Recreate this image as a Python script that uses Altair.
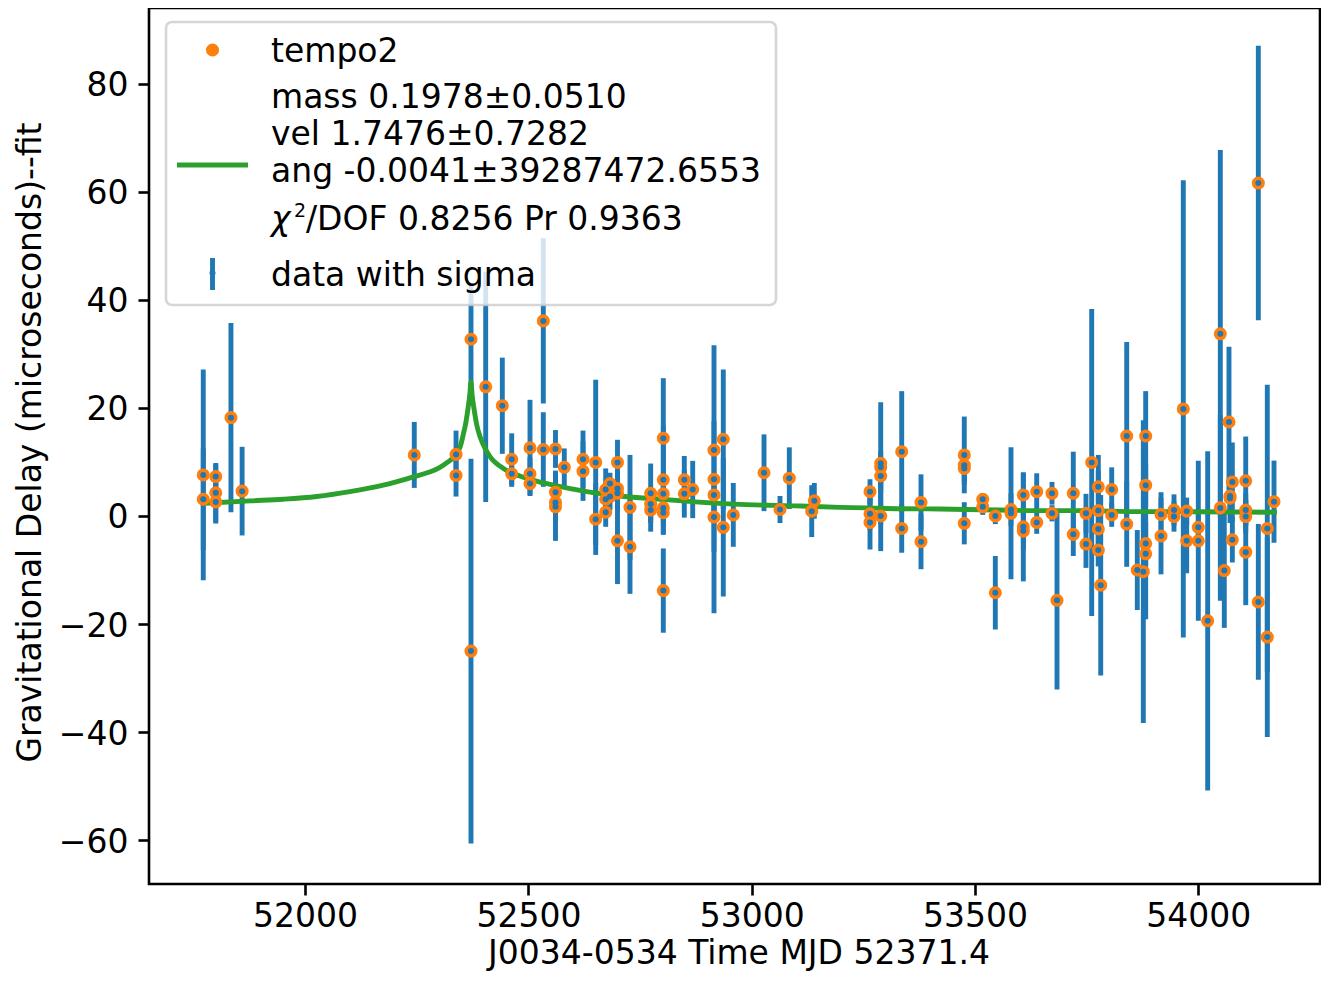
import altair as alt
import pandas as pd

# ---- data ----
mjd = [51772, 51772, 51800, 51800, 51800, 51834, 51859, 52244.5, 52338, 52338,
       52371.5, 52371.5, 52404.4, 52441.6, 52462.6, 52462.6, 52503.6, 52503.6, 52503.6, 52533.4,
       52533.4, 52560.7, 52560.7, 52560.7, 52560.7, 52580.4, 52622.3, 52622.3, 52650.7, 52650.7,
       52673.1, 52673.1, 52673.1, 52682.7, 52682.7, 52699.5, 52699.5, 52699.5, 52699.5, 52727.5,
       52727.5, 52773.8, 52773.8, 52773.8, 52802.1, 52802.1, 52802.1, 52802.1, 52802.1, 52802.1,
       52849.1, 52849.1, 52867.9, 52915.6, 52915.6, 52915.6, 52915.6, 52936.4, 52936.4, 52958.8,
       53027.6, 53063.4, 53084.2, 53134.4, 53140.2, 53264.9, 53264.9, 53264.9, 53288.9, 53288.9,
       53288.9, 53288.9, 53335.9, 53335.9, 53379.1, 53379.1, 53476, 53476, 53476, 53476,
       53517.3, 53517.3, 53545.5, 53545.5, 53580.6, 53580.6, 53608.2, 53608.2, 53608.2, 53638.2,
       53638.2, 53672.4, 53672.4, 53683.6, 53720.1, 53720.1, 53748.5, 53748.5, 53761.3, 53776.1,
       53776.1, 53776.1, 53776.1, 53781.5, 53806.1, 53806.1, 53839.7, 53839.7, 53863.4, 53876.9,
       53882.2, 53882.2, 53882.2, 53882.2, 53916.5, 53916.5, 53945.6, 53945.6, 53966.4, 53974,
       53974, 54000, 54000, 54021, 54049.3, 54049.3, 54058.2, 54068.7, 54071, 54071,
       54076.2, 54076.2, 54106.2, 54106.2, 54106.2, 54106.2, 54134.4, 54134.4, 54154.5, 54154.5,
       54169.5]
val = [7.6, 3.1, 7.3, 4.3, 2.6, 18.2, 4.6, 11.3, 11.4, 7.5,
       32.7, -25.0, 23.9, 20.4, 10.5, 7.8, 12.6, 7.8, 6.0, 36.1,
       12.3, 12.4, 4.4, 2.5, 1.7, 9.0, 10.5, 8.3, 9.9, -0.6,
       4.9, 3.1, 0.7, 6.0, 3.6, 9.9, 5.1, 4.2, -4.6, 1.6,
       -5.7, 4.2, 2.2, 1.1, 14.4, 6.7, 4.1, 1.5, 0.6, -13.8,
       6.7, 4.1, 4.9, 12.2, 6.8, 3.9, -0.2, 14.2, -2.1, 0.2,
       8.0, 1.2, 7.0, 0.9, 2.8, 4.5, 0.4, -1.2, 9.75, 9.0,
       7.4, 0.0, 11.9, -2.3, 2.5, -4.75, 11.3, 9.4, 8.8, -1.35,
       3.1, 1.7, 0.0, -14.2, 1.2, 0.5, 3.9, -2.8, -2.0, 4.5,
       -1.2, 4.2, 0.5, -15.6, 4.2, -3.4, 0.5, -5.2, 9.9, 5.4,
       1.0, -2.4, -6.3, -12.8, 4.9, 0.2, 14.8, -1.5, -10.0, -10.3,
       14.8, 5.7, -5.1, -7.0, 0.3, -3.7, 1.1, -0.1, 19.8, 0.9,
       -4.6, -2.1, -4.6, -19.4, 33.7, 1.5, -10.1, 17.4, 3.7, 3.3,
       6.3, -4.4, 6.5, 1.1, -0.1, -6.7, 61.6, -15.9, -2.3, -22.4,
       2.65]
sig = [19.5, 9.4, 2.3, 5.5, 4.0, 17.5, 8.2, 6.1, 4.4, 3.9,
       10.35, 35.6, 21.3, 8.9, 4.8, 2.4, 8.9, 3.0, 2.1, 15.3,
       6.9, 3.5, 4.0, 3.5, 6.3, 3.5, 5.3, 5.5, 15.3, 6.6,
       3.9, 3.0, 2.7, 2.0, 2.5, 4.2, 3.0, 3.0, 8.0, 9.7,
       8.7, 5.5, 3.0, 4.0, 11.1, 10.0, 3.0, 3.0, 4.1, 7.8,
       4.4, 4.4, 5.3, 5.4, 24.8, 3.0, 6.4, 12.9, 12.8, 5.9,
       7.1, 2.5, 5.7, 4.8, 3.3, 2.3, 3.0, 5.0, 11.3, 3.0,
       3.0, 6.5, 11.2, 4.5, 5.2, 5.1, 7.1, 3.0, 3.0, 3.9,
       1.1, 1.5, 1.5, 6.8, 3.0, 12.2, 4.0, 3.5, 10.1, 3.4,
       2.1, 2.1, 1.5, 16.5, 7.7, 4.0, 3.6, 4.4, 28.4, 3.0,
       10.3, 3.0, 3.0, 16.7, 4.1, 2.2, 17.4, 7.9, 7.4, 28.0,
       8.3, 4.0, 4.0, 12.1, 4.1, 7.1, 2.9, 2.8, 42.3, 2.5,
       6.0, 3.0, 14.8, 31.4, 34.0, 17.2, 10.6, 13.9, 5.0, 3.0,
       7.3, 4.2, 8.2, 3.0, 3.0, 9.8, 25.4, 14.4, 26.6, 18.5,
       7.6]

# fitted curve
curve_mjd = [51772, 51877, 51951, 52026, 52100, 52175, 52245, 52270, 52300, 52320,
             52338, 52348, 52354, 52360, 52365, 52369, 52371.4, 52374, 52378, 52384,
             52392, 52403, 52414, 52444, 52481, 52520, 52556, 52631, 52705, 52780,
             52860, 52959, 53109, 53198, 53258, 53333, 53422, 53520, 53646, 53735,
             53870, 53959, 54176]
curve_val = [2.35, 2.8, 3.1, 3.6, 4.5, 5.7, 7.3, 7.9, 8.9, 10.0,
             11.4, 13.0, 15.0, 17.3, 20.0, 22.6, 24.8, 22.4, 20.0, 17.0,
             14.6, 12.5, 11.0, 8.8, 7.4, 6.4, 5.7, 4.5, 3.7, 3.2,
             2.7, 2.2, 1.85, 1.6, 1.5, 1.35, 1.3, 1.15, 1.0, 1.0,
             0.8, 0.8, 0.7]

xticks = [52000, 52500, 53000, 53500, 54000]
yticks = [-60, -40, -20, 0, 20, 40, 60, 80]

legend_fit_lines = ["mass 0.1978\u00b10.0510", "vel 1.7476\u00b10.7282",
                    "ang -0.0041\u00b139287472.6553"]
chi_rest = "/DOF 0.8256 Pr 0.9363"

# ---- build ----
df = pd.DataFrame({"mjd": mjd, "val": val, "sig": sig})
df["lo"] = df["val"] - df["sig"]
df["hi"] = df["val"] + df["sig"]
cv = pd.DataFrame({"mjd": curve_mjd, "val": curve_val})
one = pd.DataFrame({"k": [0]})

W, H = 1171, 876
FONT = "DejaVu Sans"
FS = 33
BLUE, ORANGE, GREEN = "#1f77b4", "#ff7f0e", "#2ca02c"

xs = alt.Scale(domain=[51650.5, 54272.5], nice=False, zero=False)
ys = alt.Scale(domain=[-68.09, 93.99], nice=False, zero=False)

xax = alt.Axis(values=xticks, format="d", title="J0034-0534 Time MJD 52371.4",
               labelBaseline="alphabetic", labelPadding=31,
               titleX=589.5, titleY=79, titleBaseline="alphabetic", titleAlign="center")
yax = alt.Axis(values=yticks, format="d", title="Gravitational Delay (microseconds)--fit",
               labelBaseline="middle", labelOffset=2, labelPadding=10,
               titleX=-109, titleY=434, titleAngle=270, titleBaseline="alphabetic",
               titleAlign="center")

X = alt.X("mjd:Q", scale=xs, axis=xax)

bars = alt.Chart(df).mark_rule(color=BLUE, strokeWidth=4.9).encode(
    x=X, y=alt.Y("lo:Q", scale=ys, axis=yax), y2="hi:Q")
fit = alt.Chart(cv).mark_line(color=GREEN, strokeWidth=4.9, interpolate="monotone").encode(
    x=X, y=alt.Y("val:Q", scale=ys, axis=yax))
orange = alt.Chart(df).mark_point(filled=True, shape="circle", size=170, color=ORANGE,
                                  opacity=1).encode(
    x=X, y=alt.Y("val:Q", scale=ys, axis=yax))
dots = alt.Chart(df).mark_point(filled=True, shape="circle", size=36, color=BLUE,
                                opacity=1).encode(
    x=X, y=alt.Y("val:Q", scale=ys, axis=yax))

# ---- legend (drawn by hand, in pixel coordinates of the plot area) ----
lbox = alt.Chart(one).mark_rect(fill="white", fillOpacity=0.8, stroke="#cccccc",
                                strokeOpacity=0.8, strokeWidth=2.6, cornerRadius=6).encode(
    x=alt.value(17), x2=alt.value(627), y=alt.value(14), y2=alt.value(297))
ldot = alt.Chart(one).mark_point(filled=True, shape="circle", size=170, color=ORANGE,
                                 opacity=1).encode(x=alt.value(63.5), y=alt.value(42))
lline = alt.Chart(one).mark_rule(color=GREEN, strokeWidth=4.9).encode(
    x=alt.value(28), x2=alt.value(99), y=alt.value(157))
lbar = alt.Chart(one).mark_rule(color=BLUE, strokeWidth=4.9).encode(
    x=alt.value(63.5), y=alt.value(250), y2=alt.value(282))
lbdot = alt.Chart(one).mark_point(filled=True, shape="circle", size=36, color=BLUE,
                                  opacity=1).encode(x=alt.value(63.5), y=alt.value(265))


def txt(s, x, y, size=FS, style="normal"):
    return alt.Chart(one).mark_text(text=s, font=FONT, fontSize=size, fontStyle=style,
                                    align="left", baseline="alphabetic",
                                    color="black").encode(x=alt.value(x), y=alt.value(y))


texts = [
    txt("tempo2", 122, 53.7),
    txt(legend_fit_lines[0], 122, 99.7),
    txt(legend_fit_lines[1], 122, 137),
    txt(legend_fit_lines[2], 122, 173.7),
    txt("\u03c7", 122, 222, style="italic"),
    txt("2", 145, 208.7, size=19),
    txt(chi_rest, 157, 222),
    txt("data with sigma", 122, 277.7),
]

chart = alt.layer(bars, fit, orange, dots, lbox, ldot, lline, lbar, lbdot, *texts).properties(
    width=W, height=H,
    padding={"left": 141, "top": 0, "right": 1, "bottom": 87},
    autosize=alt.AutoSizeParams(type="none"),
).configure_view(
    stroke="black", strokeWidth=2.6
).configure_axis(
    grid=False, domain=False,
    labelFont=FONT, labelFontSize=FS, labelColor="black",
    titleFont=FONT, titleFontSize=FS, titleFontWeight="normal", titleColor="black",
    tickColor="black", tickWidth=2.6, tickSize=11,
)

chart.save("out.html", embed_options={"renderer": "svg", "actions": False})
